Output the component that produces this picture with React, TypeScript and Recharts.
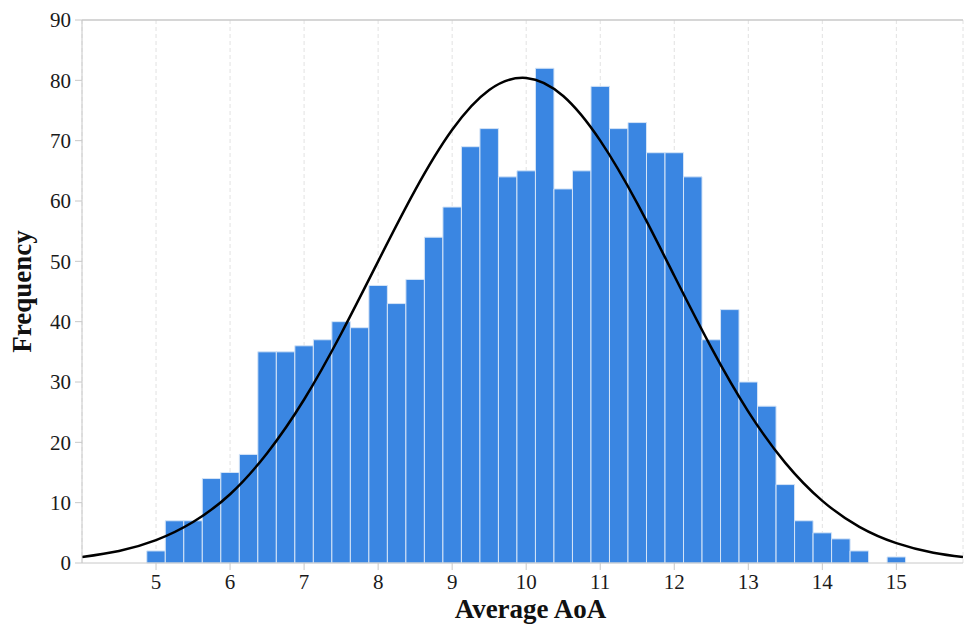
import React from "react";
import {
  ComposedChart,
  Bar,
  Line,
  XAxis,
  YAxis,
  CartesianGrid,
  ReferenceLine,
  Label,
} from "recharts";

// histogram bins (centres) and counts
const binCenters = [
  5, 5.25, 5.5, 5.75, 6, 6.25, 6.5, 6.75, 7, 7.25, 7.5, 7.75, 8, 8.25, 8.5, 8.75,
  9, 9.25, 9.5, 9.75, 10, 10.25, 10.5, 10.75, 11, 11.25, 11.5, 11.75, 12, 12.25,
  12.5, 12.75, 13, 13.25, 13.5, 13.75, 14, 14.25, 14.5, 14.75, 15,
];
const counts = [
  2, 7, 7, 14, 15, 18, 35, 35, 36, 37, 40, 39, 46, 43, 47, 54, 59, 69, 72, 64,
  65, 82, 62, 65, 79, 72, 73, 68, 68, 64, 37, 42, 30, 26, 13, 7, 5, 4, 2, 0, 1,
];

// fitted normal curve
const fitX = [
  4, 4.5, 5, 5.5, 6, 6.5, 7, 7.5, 8, 8.5, 9, 9.5, 10, 10.5, 11, 11.5, 12, 12.5,
  13, 13.5, 14, 14.5, 15, 15.5, 15.9,
];
const fitY = [
  1.0, 2.0, 3.8, 6.8, 11.4, 18.2, 27.1, 38.0, 50.0, 61.8, 71.8, 78.4, 80.4,
  77.4, 70.0, 59.6, 47.6, 35.7, 25.1, 16.6, 10.3, 6.0, 3.3, 1.7, 1.0,
];

const xTicks = [5, 6, 7, 8, 9, 10, 11, 12, 13, 14, 15];
const yTicks = [0, 10, 20, 30, 40, 50, 60, 70, 80, 90];

type Row = { x: number; count?: number; fit?: number };

const buildRows = (): Row[] => {
  const map = new Map<number, Row>();
  binCenters.forEach((x, i) => {
    map.set(x, { ...(map.get(x) || { x }), count: counts[i] });
  });
  fitX.forEach((x, i) => {
    map.set(x, { ...(map.get(x) || { x }), fit: fitY[i] });
  });
  return Array.from(map.values()).sort((a, b) => a.x - b.x);
};

const FONT = "'Liberation Serif', 'Times New Roman', serif";
const AXIS_GREY = "#c8c8c8";
const tickStyle = { fontFamily: FONT, fontSize: 21, fill: "#1a1a1a" };

const YTitle = (props: any) => {
  const vb = props.viewBox || {};
  const cx = (vb.x || 0) + 22;
  const cy = (vb.y || 0) + (vb.height || 0) / 2;
  return (
    <text
      x={cx}
      y={cy}
      transform={`rotate(-90 ${cx} ${cy})`}
      textAnchor="middle"
      dominantBaseline="central"
      style={{ fontFamily: FONT, fontSize: 27, fontWeight: "bold", fill: "#111" }}
    >
      Frequency
    </text>
  );
};

const XTitle = (props: any) => {
  const vb = props.viewBox || {};
  const cx = (vb.x || 0) + (vb.width || 0) / 2 + 8;
  const y = (vb.y || 0) + 55;
  return (
    <text
      x={cx}
      y={y}
      textAnchor="middle"
      style={{ fontFamily: FONT, fontSize: 27, fontWeight: "bold", fill: "#111" }}
    >
      Average AoA
    </text>
  );
};

export default function App() {
  const rows = buildRows();
  return (
    <div style={{ position: "absolute", left: 0, top: 0, background: "#fff" }}>
      <ComposedChart
        width={964}
        height={626}
        data={rows}
        margin={{ top: 20, right: 1, bottom: 0, left: 0 }}
      >
        <CartesianGrid
          horizontal={false}
          stroke="#e2e2e2"
          strokeDasharray="4 3"
        />
        <XAxis
          dataKey="x"
          type="number"
          domain={[4, 15.9]}
          ticks={xTicks}
          allowDataOverflow
          height={63}
          tickSize={7}
          tickMargin={4}
          tick={tickStyle}
          axisLine={{ stroke: AXIS_GREY }}
          tickLine={{ stroke: AXIS_GREY }}
        >
          <Label content={XTitle} />
        </XAxis>
        <YAxis
          type="number"
          domain={[0, 90]}
          ticks={yTicks}
          width={82}
          tickSize={7}
          tickMargin={4}
          tick={tickStyle}
          axisLine={{ stroke: AXIS_GREY }}
          tickLine={{ stroke: AXIS_GREY }}
        >
          <Label content={YTitle} />
        </YAxis>
        <ReferenceLine y={90} stroke={AXIS_GREY} strokeWidth={1.5} />
        <Bar
          dataKey="count"
          barSize={18.5}
          fill="#3a86e2"
          stroke="#d4e4f7"
          strokeWidth={1}
          isAnimationActive={false}
        />
        <Line
          dataKey="fit"
          type="natural"
          stroke="#000"
          strokeWidth={2.5}
          dot={false}
          activeDot={false}
          connectNulls
          isAnimationActive={false}
        />
      </ComposedChart>
    </div>
  );
}
